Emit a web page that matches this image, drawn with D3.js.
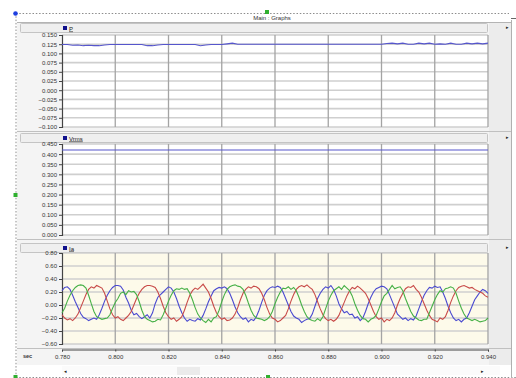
<!DOCTYPE html>
<html>
<head>
<meta charset="utf-8">
<script src="https://cdn.jsdelivr.net/npm/d3@7"></script>
<style>
body { margin: 0; background: #fff; }
svg { display: block; font-family: "Liberation Sans", Arial, sans-serif; }
</style>
</head>
<body>
<svg id="chart" width="516" height="378"></svg>
<script>
// time axis (sec)
var xTicks = [0.780, 0.800, 0.820, 0.840, 0.860, 0.880, 0.900, 0.920, 0.940];

// P panel, sampled every 0.002 s
var pTicks = [0.150, 0.125, 0.100, 0.075, 0.050, 0.025, 0.000, -0.025, -0.050, -0.075, -0.100];
var pValues = [0.124, 0.124, 0.122, 0.123, 0.121, 0.122, 0.121, 0.121, 0.123, 0.124,
               0.124, 0.124, 0.124, 0.124, 0.124, 0.124, 0.121, 0.121, 0.123, 0.124,
               0.124, 0.124, 0.124, 0.124, 0.124, 0.124, 0.121, 0.123, 0.124, 0.124,
               0.124, 0.126, 0.128, 0.125, 0.125, 0.125, 0.125, 0.125, 0.125, 0.125,
               0.125, 0.125, 0.125, 0.125, 0.125, 0.125, 0.125, 0.125, 0.125, 0.125,
               0.125, 0.125, 0.125, 0.125, 0.125, 0.125, 0.125, 0.125, 0.125, 0.125,
               0.125, 0.127, 0.128, 0.126, 0.128, 0.125, 0.125, 0.128, 0.126, 0.128,
               0.125, 0.126, 0.125, 0.128, 0.125, 0.125, 0.128, 0.126, 0.128, 0.126,
               0.128];

// Vrms panel, sampled every 0.02 s
var vTicks = [0.450, 0.400, 0.350, 0.300, 0.250, 0.200, 0.150, 0.100, 0.050, 0.000];
var vValues = [0.42, 0.42, 0.42, 0.42, 0.42, 0.42, 0.42, 0.42, 0.42];

// Ia panel (three phases), sampled every 0.001 s
var iTicks = [0.80, 0.60, 0.40, 0.20, 0.00, -0.20, -0.40, -0.60];
var iBlue = [0.22,
  0.27,0.28,0.24,0.15,0.05,-0.04,-0.13,-0.19,-0.21,-0.24,-0.22,-0.20,-0.22,-0.15,-0.05,0.06,0.15,0.22,0.27,0.30,
  0.30,0.29,0.23,0.12,0.03,-0.08,-0.15,-0.13,-0.18,-0.21,-0.18,-0.15,-0.20,-0.12,0.02,0.12,0.16,0.20,0.24,0.28,
  0.26,0.20,0.10,-0.02,-0.12,-0.20,-0.25,-0.22,-0.24,-0.25,-0.21,-0.23,-0.16,-0.06,0.05,0.14,0.22,0.25,0.27,0.26,
  0.28,0.25,0.18,0.08,-0.03,-0.12,-0.18,-0.22,-0.20,-0.26,-0.22,-0.24,-0.18,-0.08,0.04,0.15,0.22,0.26,0.28,0.27,
  0.29,0.27,0.20,0.10,0.00,-0.10,-0.17,-0.20,-0.22,-0.27,-0.24,-0.22,-0.21,-0.14,-0.02,0.10,0.18,0.24,0.28,0.26,
  0.30,0.24,0.14,0.02,-0.06,-0.12,-0.10,-0.15,-0.14,-0.20,-0.18,-0.24,-0.20,-0.10,0.02,0.12,0.20,0.25,0.27,0.29,
  0.28,0.25,0.16,0.06,-0.04,-0.14,-0.18,-0.22,-0.20,-0.24,-0.21,-0.23,-0.17,-0.06,0.05,0.15,0.22,0.27,0.26,0.29,
  0.27,0.28,0.20,0.10,-0.02,-0.12,-0.20,-0.24,-0.22,-0.26,-0.22,-0.20,-0.12,-0.02,0.08,0.14,0.20,0.24,0.22,0.18];
var iGreen = [-0.12,-0.05,0.06,0.15,0.22,0.27,0.30,
  0.31,0.30,0.26,0.15,0.02,-0.10,-0.18,-0.20,-0.22,-0.21,-0.20,-0.15,-0.05,0.04,0.10,0.18,0.20,0.16,0.22,0.20,
  0.21,0.16,0.05,-0.08,-0.18,-0.22,-0.24,-0.26,-0.25,-0.22,-0.23,-0.15,-0.05,0.06,0.15,0.22,0.25,0.24,0.26,0.24,
  0.25,0.18,0.08,-0.04,-0.14,-0.20,-0.24,-0.27,-0.22,-0.26,-0.20,-0.18,-0.08,0.05,0.16,0.24,0.28,0.30,0.31,0.29,
  0.28,0.24,0.15,0.03,-0.08,-0.16,-0.20,-0.21,-0.22,-0.24,-0.22,-0.18,-0.10,0.02,0.12,0.20,0.26,0.25,0.28,0.24,
  0.27,0.22,0.12,0.00,-0.10,-0.18,-0.22,-0.24,-0.25,-0.21,-0.24,-0.18,-0.06,0.06,0.15,0.22,0.25,0.28,0.24,0.30,
  0.26,0.22,0.14,0.02,-0.08,-0.16,-0.21,-0.22,-0.26,-0.22,-0.20,-0.16,-0.06,0.05,0.14,0.18,0.24,0.30,0.25,0.27,
  0.28,0.22,0.10,0.00,-0.10,-0.17,-0.20,-0.23,-0.24,-0.22,-0.22,-0.12,-0.02,0.08,0.16,0.22,0.20,0.25,0.26,0.28,
  0.26,0.18,0.06,-0.05,-0.14,-0.20,-0.22,-0.24,-0.22,-0.24,-0.26,-0.25,-0.24,-0.20];
var iRed = [-0.15,-0.20,-0.23,-0.21,-0.24,-0.20,-0.14,-0.04,0.06,0.16,0.24,0.28,0.26,0.30,
  0.28,0.26,0.18,0.06,-0.06,-0.15,-0.20,-0.18,-0.22,-0.24,-0.20,-0.16,-0.10,0.00,0.10,0.18,0.24,0.28,0.30,0.30,
  0.29,0.27,0.20,0.10,-0.02,-0.12,-0.18,-0.22,-0.20,-0.25,-0.22,-0.18,-0.08,0.04,0.15,0.22,0.26,0.24,0.28,0.32,
  0.26,0.20,0.10,-0.02,-0.12,-0.18,-0.22,-0.20,-0.24,-0.23,-0.20,-0.14,-0.04,0.08,0.18,0.24,0.28,0.26,0.29,0.28,
  0.25,0.18,0.08,-0.04,-0.14,-0.20,-0.22,-0.26,-0.24,-0.20,-0.16,-0.06,0.06,0.16,0.24,0.28,0.30,0.28,0.31,0.27,
  0.24,0.16,0.05,-0.06,-0.15,-0.21,-0.24,-0.22,-0.25,-0.22,-0.16,-0.06,0.04,0.14,0.22,0.27,0.25,0.29,0.26,0.22,
  0.18,0.10,0.00,-0.10,-0.18,-0.22,-0.20,-0.26,-0.22,-0.24,-0.20,-0.12,0.00,0.10,0.18,0.25,0.28,0.27,0.30,0.24,
  0.20,0.12,0.02,-0.08,-0.16,-0.22,-0.24,-0.26,-0.20,-0.22,-0.18,-0.08,0.04,0.14,0.22,0.27,0.29,0.30,0.28,0.26,
  0.27,0.24,0.22,0.20,0.18,0.14,0.12];

var svg = d3.select("#chart");
var plotL = 62, plotR = 488;

var x = d3.scaleLinear().domain([0.78, 0.94]).range([plotL, plotR]);

var panels = [
  {name: "P", header: 23, top: 35, bottom: 127, ticks: pTicks, fmt: d3.format(".3f"), bg: "#ffffff",
   series: [{values: pValues, dt: 0.002, color: "#5656cc"}]},
  {name: "Vrms", header: 133, top: 144, bottom: 235, ticks: vTicks, fmt: d3.format(".3f"), bg: "#ffffff",
   series: [{values: vValues, dt: 0.02, color: "#5656cc"}]},
  {name: "Ia", header: 243, top: 253, bottom: 344, ticks: iTicks, fmt: d3.format(".2f"), bg: "#fdfaea",
   series: [{values: iBlue, dt: 0.001, color: "#4a4ad0"},
            {values: iRed, dt: 0.001, color: "#c84a48"},
            {values: iGreen, dt: 0.001, color: "#46b046"}]}
];

// frame background
svg.append("rect").attr("x", 0).attr("y", 0).attr("width", 516).attr("height", 378).attr("fill", "#fff");
svg.append("rect").attr("x", 17).attr("y", 22).attr("width", 494).attr("height", 343).attr("fill", "#f4f4f4");
svg.append("rect").attr("x", 489).attr("y", 22).attr("width", 22).attr("height", 343).attr("fill", "#ececec");

// title
svg.append("text").attr("x", 272).attr("y", 20).attr("text-anchor", "middle")
  .attr("font-size", 6).attr("fill", "#333").text("Main : Graphs");
svg.append("line").attr("x1", 17).attr("x2", 511).attr("y1", 22.5).attr("y2", 22.5)
  .attr("stroke", "#b4b4b4");

panels.forEach(function (p) {
  var y = d3.scaleLinear()
    .domain([p.ticks[p.ticks.length - 1], p.ticks[0]])
    .range([p.bottom, p.top]);

  // header bar with legend
  svg.append("rect").attr("x", 20.5).attr("y", p.header + 0.5).attr("width", 467).attr("height", 9)
    .attr("rx", 1).attr("fill", "#efefef").attr("stroke", "#c4c4c4");
  svg.append("rect").attr("x", 63).attr("y", p.header + 3).attr("width", 4).attr("height", 4)
    .attr("fill", "#10108c");
  svg.append("text").attr("x", 69).attr("y", p.header + 7.5).attr("font-size", 6)
    .attr("fill", "#222").attr("text-decoration", "underline").text(p.name);
  svg.append("text").attr("x", 506).attr("y", p.header + 6).attr("font-size", 5)
    .attr("fill", "#222").text("\u25B8");

  // plot area
  svg.append("rect").attr("x", plotL).attr("y", p.top).attr("width", plotR - plotL)
    .attr("height", p.bottom - p.top).attr("fill", p.bg);

  // grid
  svg.append("g").selectAll("line").data(p.ticks).enter().append("line")
    .attr("x1", plotL).attr("x2", plotR)
    .attr("y1", function (d) { return y(d); }).attr("y2", function (d) { return y(d); })
    .attr("stroke", "#cfcfcf").attr("stroke-width", 1.6);
  svg.append("g").selectAll("line").data(xTicks.slice(1)).enter().append("line")
    .attr("x1", function (d) { return x(d); }).attr("x2", function (d) { return x(d); })
    .attr("y1", p.top).attr("y2", p.bottom)
    .attr("stroke", "#a4a4a4").attr("stroke-width", 1.3);

  // y axis
  var ax = svg.append("g").attr("transform", "translate(" + plotL + ",0)")
    .call(d3.axisLeft(y).tickValues(p.ticks).tickSize(3).tickPadding(2).tickFormat(p.fmt));
  ax.selectAll("text").attr("font-size", 6).attr("fill", "#333").attr("font-family", "Liberation Sans, Arial, sans-serif");
  ax.selectAll("line").attr("stroke", "#444");
  ax.select(".domain").attr("stroke", "#444").attr("stroke-width", 1.2);

  // series
  p.series.forEach(function (s) {
    var line = d3.line()
      .x(function (d, i) { return x(0.78 + i * s.dt); })
      .y(function (d) { return y(d); });
    svg.append("path").datum(s.values)
      .attr("d", line).attr("fill", "none")
      .attr("stroke", s.color).attr("stroke-width", 1.1);
  });

  // separator below panel
  svg.append("line").attr("x1", 17).attr("x2", 511)
    .attr("y1", p.bottom + 4.5).attr("y2", p.bottom + 4.5)
    .attr("stroke", "#c0c0c0");
});

// time axis
var xa = svg.append("g").attr("transform", "translate(0,349.5)")
  .call(d3.axisBottom(x).tickValues(xTicks).tickSize(2).tickPadding(3).tickFormat(d3.format(".3f")));
xa.selectAll("text").attr("font-size", 6).attr("fill", "#333").attr("font-family", "Liberation Sans, Arial, sans-serif");
xa.selectAll("line").attr("stroke", "#444");
xa.select(".domain").attr("stroke", "#444");
svg.append("text").attr("x", 23).attr("y", 358).attr("font-size", 5.5).attr("font-weight", "bold")
  .attr("fill", "#333").text("sec");

// horizontal scroll bar
svg.append("rect").attr("x", 62).attr("y", 366).attr("width", 438).attr("height", 9).attr("fill", "#fbfbfb");
svg.append("rect").attr("x", 177).attr("y", 367).attr("width", 23).attr("height", 8).attr("fill", "#ebebeb");
svg.append("text").attr("x", 64).attr("y", 373).attr("font-size", 5).attr("fill", "#222").text("\u25C2");
svg.append("text").attr("x", 481).attr("y", 373).attr("font-size", 5).attr("fill", "#222").text("\u25B8");

// dotted selection border and handles
var dots = svg.append("g").attr("stroke", "#8c8c8c").attr("stroke-dasharray", "1.5,1.8");
dots.append("line").attr("x1", 16).attr("x2", 16).attr("y1", 13).attr("y2", 377);
dots.append("line").attr("x1", 16).attr("x2", 509).attr("y1", 13.5).attr("y2", 13.5);
dots.append("line").attr("x1", 16).attr("x2", 516).attr("y1", 377.5).attr("y2", 377.5);
svg.append("line").attr("x1", 511.5).attr("x2", 511.5).attr("y1", 20).attr("y2", 378)
  .attr("stroke", "#b0b0b0");
svg.append("line").attr("x1", 511).attr("x2", 516).attr("y1", 18.5).attr("y2", 18.5)
  .attr("stroke", "#666");

svg.append("circle").attr("cx", 15.5).attr("cy", 13.5).attr("r", 2.3).attr("fill", "#1e3fe0");
[[267, 12], [15.5, 195], [15.5, 377], [268, 377]].forEach(function (h) {
  svg.append("rect").attr("x", h[0] - 2).attr("y", h[1] - 2).attr("width", 4).attr("height", 4)
    .attr("fill", "#2fb02f");
});
</script>
</body>
</html>
